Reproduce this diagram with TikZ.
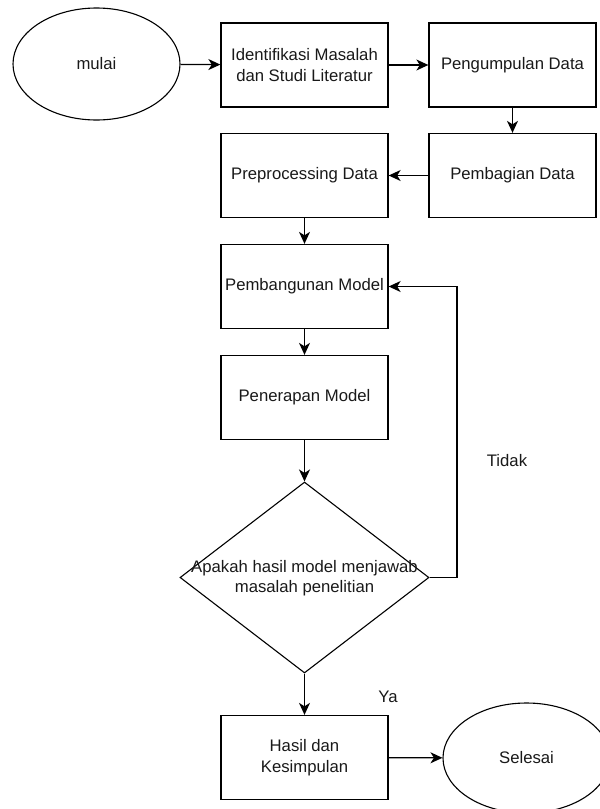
\documentclass[tikz,border=0pt]{standalone}
\usepackage{fontspec}
\setmainfont{Liberation Sans}
\usetikzlibrary{shapes.geometric,arrows.meta}
\begin{document}
\begin{tikzpicture}[x=1pt,y=-1pt,
  txt/.style={font=\fontsize{16.7}{20.5}\selectfont, text=black!90},
  box/.style={txt, draw, line width=1.3pt, minimum width=167pt, minimum height=84pt, align=center, inner sep=0pt},
  oval/.style={txt, draw, ellipse, line width=1.1pt, minimum width=167pt, inner sep=0pt},
  dia/.style={draw, diamond, line width=1.1pt, minimum width=249pt, minimum height=191pt, inner sep=0pt},
  arr/.style={draw, line width=1.3pt, -{Stealth[length=12pt,width=11pt,inset=3.5pt]}},
  lbl/.style={txt}
]
\useasboundingbox (0,0) rectangle (600,809);
\clip (0,0) rectangle (600,809);

\node[oval, minimum height=112pt] (mulai) at (96.5,64) {mulai};
\node[box] (ident) at (304.5,65) {Identifikasi Masalah\\dan Studi Literatur};
\node[box] (kumpul) at (512.5,65) {Pengumpulan Data};
\node[box] (bagi) at (512.5,175.5) {Pembagian Data};
\node[box] (prep) at (304.5,175.5) {Preprocessing Data};
\node[box] (bangun) at (304.5,286.5) {Pembangunan Model};
\node[box] (terap) at (304.5,397.5) {Penerapan Model};
\node[dia] (cek) at (304.5,577.5) {};
\node[lbl, align=center] (cektxt) at (304.5,578) {Apakah hasil model menjawab\\masalah penelitian};
\node[box] (hasil) at (304.5,757.5) {Hasil dan\\Kesimpulan};
\node[oval, minimum height=110pt] (selesai) at (526.5,758) {Selesai};

\coordinate (c1) at (457,577.5);
\coordinate (c2) at (457,286.5);

\node[lbl] (tidak) at (507,461) {Tidak};
\node[lbl] (ya) at (388,697) {Ya};

\draw[arr] (mulai) -- (ident);
\draw[arr] (ident) -- (kumpul);
\draw[arr] (kumpul) -- (bagi);
\draw[arr] (bagi) -- (prep);
\draw[arr] (prep) -- (bangun);
\draw[arr] (bangun) -- (terap);
\draw[arr] (terap) -- (cek);
\draw[arr] (cek.east) -- (c1) -- (c2) -- (bangun.east);
\draw[arr] (cek) -- (hasil);
\draw[arr] (hasil) -- (selesai);
\end{tikzpicture}
\end{document}
